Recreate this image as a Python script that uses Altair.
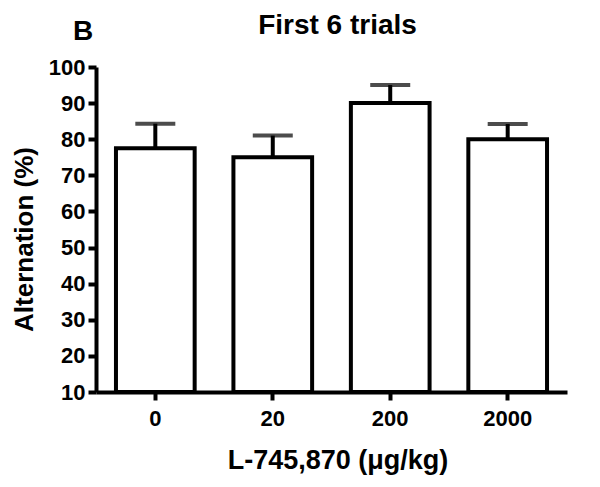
import altair as alt
import pandas as pd

doses = ["0", "20", "200", "2000"]
means = [77.5, 75.0, 90.0, 80.0]
uppers = [84.3, 81.0, 95.0, 84.2]
y_ticks = [10, 20, 30, 40, 50, 60, 70, 80, 90, 100]

df = pd.DataFrame({"dose": doses, "mean": means, "upper": uppers})

FONT = "Liberation Sans"

x_enc = alt.X("dose:N", sort=doses, title="L-745,870 (\u03bcg/kg)",
              scale=alt.Scale(paddingInner=0.33, paddingOuter=0.17),
              axis=alt.Axis(labelAngle=0, tickSize=8, tickWidth=4, domainWidth=4,
                            labelPadding=8, titlePadding=18, titleFontSize=27, titleX=241.5))
y_scale = alt.Scale(domain=[10, 100], nice=False, zero=False)
y_axis = alt.Axis(values=y_ticks, tickSize=8, tickWidth=4, domainWidth=4,
                  labelPadding=3, titlePadding=11, titleFontSize=26, titleY=172,
                  labelOverlap=False)

bars = alt.Chart(df).mark_bar(fill="white", stroke="black", strokeWidth=4).encode(
    x=x_enc,
    y=alt.Y("mean:Q", scale=y_scale, title="Alternation (%)", axis=y_axis),
    y2=alt.datum(10),
)

err = alt.Chart(df).mark_rule(color="black", strokeWidth=4).encode(
    x=x_enc,
    y=alt.Y("mean:Q", scale=y_scale, title="Alternation (%)", axis=y_axis),
    y2="upper:Q",
)

caps = alt.Chart(df).mark_tick(color="black", thickness=4, size=40, orient="horizontal").encode(
    x=x_enc,
    y=alt.Y("upper:Q", scale=y_scale, title="Alternation (%)", axis=y_axis),
)

label_b = alt.Chart(pd.DataFrame({"t": ["B"]})).mark_text(
    font=FONT, fontWeight="bold", fontSize=28, color="black", align="center", baseline="alphabetic"
).encode(text="t:N", x=alt.value(-13), y=alt.value(-27))

chart = alt.layer(bars, err, caps, label_b).properties(
    width=471, height=325,
    autosize=alt.AutoSizeParams(type="none"),
    title=alt.TitleParams("First 6 trials", font=FONT, fontWeight="bold", fontSize=28,
                          color="black", anchor="middle", offset=-22, dx=6),
    padding={"left": 88, "top": 59, "right": 25, "bottom": 87},
).configure_view(stroke=None).configure_axis(
    grid=False, domainColor="black", tickColor="black", labelOverlap=False,
    labelFont=FONT, labelFontWeight="bold", labelFontSize=22, labelColor="black",
    titleFont=FONT, titleFontWeight="bold", titleColor="black",
)

chart.save("out.html", embed_options={"renderer": "svg", "actions": False})
